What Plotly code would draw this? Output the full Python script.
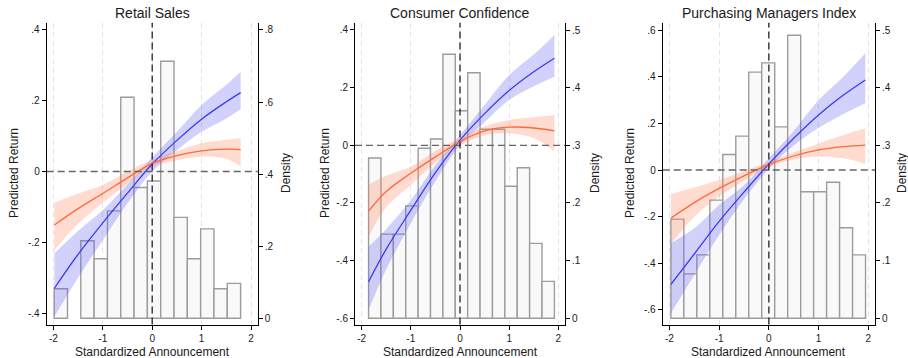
import numpy as np
import plotly.graph_objects as go

# ---------------- data ----------------
panel_titles = ["Retail Sales", "Consumer Confidence", "Purchasing Managers Index"]
x_title = "Standardized Announcement"
y_title_left = "Predicted Return"
y_title_right = "Density"

x_ticks = [-2, -1, 0, 1, 2]
x_ticktext = ["-2", "-1", "0", "1", "2"]

# Histogram (density) per panel: left edge of first bin, bin width, densities
rs_bin_start, rs_bin_width = -1.984, 0.2695
rs_density = [0.082, 0.0, 0.215, 0.165, 0.298, 0.613, 0.363, 0.381, 0.713, 0.280, 0.165, 0.248, 0.082, 0.097]

cc_bin_start, cc_bin_width = -1.859, 0.2519
cc_density = [0.278, 0.146, 0.146, 0.195, 0.295, 0.311, 0.458, 0.360, 0.426, 0.328, 0.328, 0.229, 0.261, 0.130, 0.064]

pmi_bin_start, pmi_bin_width = -1.97, 0.261
pmi_density = [0.172, 0.077, 0.110, 0.205, 0.284, 0.316, 0.427, 0.443, 0.332, 0.491, 0.2195, 0.2195, 0.236, 0.157, 0.110]

# Fitted curves (blue = fit A, orange = fit B) with confidence bands
rs_x = [-1.98, -1.5, -1.0, -0.5, 0.0, 0.5, 1.0, 1.5, 1.79]
rs_a = [-0.330, -0.234, -0.145, -0.061, 0.021, 0.088, 0.148, 0.197, 0.223]
rs_a_lo = [-0.410, -0.300, -0.194, -0.090, 0.000, 0.060, 0.112, 0.150, 0.176]
rs_a_hi = [-0.231, -0.168, -0.109, -0.037, 0.040, 0.112, 0.188, 0.245, 0.282]
rs_b = [-0.151, -0.105, -0.062, -0.018, 0.023, 0.045, 0.058, 0.063, 0.062]
rs_b_lo = [-0.222, -0.148, -0.088, -0.035, 0.013, 0.032, 0.042, 0.036, 0.014]
rs_b_hi = [-0.088, -0.062, -0.038, 0.000, 0.033, 0.058, 0.080, 0.090, 0.094]

cc_x = [-1.86, -1.5, -1.0, -0.5, 0.0, 0.5, 1.0, 1.5, 1.92]
cc_a = [-0.473, -0.360, -0.225, -0.095, 0.018, 0.110, 0.190, 0.255, 0.302]
cc_a_lo = [-0.571, -0.430, -0.270, -0.125, 0.000, 0.080, 0.157, 0.205, 0.238]
cc_a_hi = [-0.352, -0.290, -0.190, -0.068, 0.035, 0.140, 0.244, 0.315, 0.383]
cc_b = [-0.228, -0.160, -0.097, -0.040, 0.013, 0.050, 0.063, 0.060, 0.050]
cc_b_lo = [-0.317, -0.215, -0.138, -0.060, 0.000, 0.034, 0.042, 0.025, -0.022]
cc_b_hi = [-0.138, -0.105, -0.074, -0.020, 0.025, 0.066, 0.088, 0.097, 0.105]

pmi_x = [-1.97, -1.5, -1.0, -0.5, 0.0, 0.5, 1.0, 1.5, 1.94]
pmi_a = [-0.490, -0.360, -0.220, -0.095, 0.026, 0.136, 0.236, 0.321, 0.386]
pmi_a_lo = [-0.614, -0.450, -0.279, -0.125, 0.005, 0.105, 0.180, 0.240, 0.286]
pmi_a_hi = [-0.314, -0.250, -0.150, -0.065, 0.050, 0.167, 0.300, 0.400, 0.500]
pmi_b = [-0.207, -0.140, -0.079, -0.025, 0.024, 0.060, 0.086, 0.100, 0.107]
pmi_b_lo = [-0.317, -0.200, -0.114, -0.045, 0.012, 0.045, 0.057, 0.050, 0.026]
pmi_b_hi = [-0.103, -0.075, -0.043, -0.005, 0.035, 0.075, 0.114, 0.150, 0.179]

# Axis ticks
rs_ret_ticks = [-0.4, -0.2, 0, 0.2, 0.4]
rs_ret_text = ["-.4", "-.2", "0", ".2", ".4"]
rs_den_ticks = [0, 0.2, 0.4, 0.6, 0.8]
rs_den_text = ["0", ".2", ".4", ".6", ".8"]

cc_ret_ticks = [-0.6, -0.4, -0.2, 0, 0.2, 0.4]
cc_ret_text = ["-.6", "-.4", "-.2", "0", ".2", ".4"]
cc_den_ticks = [0, 0.1, 0.2, 0.3, 0.4, 0.5]
cc_den_text = ["0", ".1", ".2", ".3", ".4", ".5"]

pmi_ret_ticks = [-0.6, -0.4, -0.2, 0, 0.2, 0.4, 0.6]
pmi_ret_text = ["-.6", "-.4", "-.2", "0", ".2", ".4", ".6"]
pmi_den_ticks = [0, 0.1, 0.2, 0.3, 0.4, 0.5]
pmi_den_text = ["0", ".1", ".2", ".3", ".4", ".5"]

# ---------------- layout helpers ----------------
W, H = 908, 358
FONT = "Liberation Sans, Arial, Helvetica, sans-serif"
TXT = "#1a1a1a"

panels = [
    dict(title=panel_titles[0], bs=rs_bin_start, bw=rs_bin_width, dens=rs_density,
         x=rs_x, a=rs_a, alo=rs_a_lo, ahi=rs_a_hi, b=rs_b, blo=rs_b_lo, bhi=rs_b_hi,
         rt=rs_ret_ticks, rtt=rs_ret_text, dt=rs_den_ticks, dtt=rs_den_text,
         rr=[-0.4325, 0.4206], dr=[-0.0172, 0.820],
         px=[46.7, 257.7], ylab_x=14, dlab_x=286),
    dict(title=panel_titles[1], bs=cc_bin_start, bw=cc_bin_width, dens=cc_density,
         x=cc_x, a=cc_a, alo=cc_a_lo, ahi=cc_a_hi, b=cc_b, blo=cc_b_lo, bhi=cc_b_hi,
         rt=cc_ret_ticks, rtt=cc_ret_text, dt=cc_den_ticks, dtt=cc_den_text,
         rr=[-0.6215, 0.4253], dr=[-0.01075, 0.5127],
         px=[355, 565], ylab_x=325, dlab_x=595),
    dict(title=panel_titles[2], bs=pmi_bin_start, bw=pmi_bin_width, dens=pmi_density,
         x=pmi_x, a=pmi_a, alo=pmi_a_lo, ahi=pmi_a_hi, b=pmi_b, blo=pmi_b_lo, bhi=pmi_b_hi,
         rt=pmi_ret_ticks, rtt=pmi_ret_text, dt=pmi_den_ticks, dtt=pmi_den_text,
         rr=[-0.6622, 0.6313], dr=[-0.01075, 0.5127],
         px=[662.7, 875], ylab_x=630, dlab_x=902),
]

y_dom = [1 - 324.5 / H, 1 - 22.7 / H]

BLUE = "#3b3bf2"
BLUE_BAND = "rgba(90, 90, 245, 0.28)"
ORANGE = "#ff6a3d"
ORANGE_BAND = "rgba(255, 125, 85, 0.28)"

fig = go.Figure()
layout = dict(
    width=W, height=H, margin=dict(l=0, r=0, t=0, b=0),
    paper_bgcolor="white", plot_bgcolor="white", showlegend=False,
    font=dict(family=FONT, color=TXT, size=10),
)
shapes = []
annotations = []

for i, p in enumerate(panels):
    xa = "x" if i == 0 else f"x{i + 1}"
    yd = f"y{2 * i + 1}" if i > 0 else "y"
    yr = f"y{2 * i + 2}"
    xkey = "xaxis" if i == 0 else f"xaxis{i + 1}"
    ydkey = "yaxis" if i == 0 else f"yaxis{2 * i + 1}"
    yrkey = f"yaxis{2 * i + 2}"

    # histogram
    dens = np.array(p["dens"], dtype=float)
    centers = p["bs"] + p["bw"] * (np.arange(len(dens)) + 0.5)
    keep = dens > 0
    fig.add_trace(go.Bar(
        x=centers[keep], y=dens[keep], width=p["bw"], xaxis=xa, yaxis=yd,
        marker=dict(color="#f9f9f9", line=dict(color="#9c9c9c", width=1.4)),
        hoverinfo="skip"))

    # bands
    for lo, hi, col in [(p["alo"], p["ahi"], BLUE_BAND), (p["blo"], p["bhi"], ORANGE_BAND)]:
        fig.add_trace(go.Scatter(x=p["x"], y=lo, xaxis=xa, yaxis=yr, mode="lines",
                                 line=dict(width=0, shape="spline", color=col), hoverinfo="skip"))
        fig.add_trace(go.Scatter(x=p["x"], y=hi, xaxis=xa, yaxis=yr, mode="lines",
                                 line=dict(width=0, shape="spline", color=col),
                                 fill="tonexty", fillcolor=col, hoverinfo="skip"))
    # lines
    fig.add_trace(go.Scatter(x=p["x"], y=p["a"], xaxis=xa, yaxis=yr, mode="lines",
                             line=dict(width=1.3, shape="spline", color=BLUE)))
    fig.add_trace(go.Scatter(x=p["x"], y=p["b"], xaxis=xa, yaxis=yr, mode="lines",
                             line=dict(width=1.3, shape="spline", color=ORANGE)))

    dom = [p["px"][0] / W, p["px"][1] / W]
    layout[xkey] = dict(
        domain=dom, anchor=yd, range=[-2.135, 2.135], tickvals=x_ticks, ticktext=x_ticktext,
        ticks="outside", ticklen=4, tickcolor="black", showline=True, linecolor="black",
        linewidth=1, showgrid=True, gridcolor="#e4e4e4", griddash="5px,4px", gridwidth=1,
        zeroline=False, tickfont=dict(size=10, color=TXT))
    layout[ydkey] = dict(
        domain=y_dom, anchor=xa, side="right", range=p["dr"], tickvals=p["dt"], ticktext=p["dtt"],
        ticks="outside", ticklen=4, tickcolor="black", showline=True, linecolor="black",
        linewidth=1, showgrid=False, zeroline=False, tickfont=dict(size=10, color=TXT))
    layout[yrkey] = dict(
        overlaying=yd, anchor=xa, side="left", range=p["rr"], tickvals=p["rt"], ticktext=p["rtt"],
        ticks="outside", ticklen=4, tickcolor="black", showline=True, linecolor="black",
        linewidth=1, showgrid=False, zeroline=False, tickfont=dict(size=10, color=TXT))

    # reference lines
    shapes.append(dict(type="line", xref=f"{xa} domain", yref=yr, x0=0, x1=1, y0=0, y1=0,
                       line=dict(color="#666666", width=1.3, dash="7px,4px"), layer="above"))
    shapes.append(dict(type="line", xref=xa, yref=f"{yd} domain", x0=0, x1=0, y0=0, y1=1,
                       line=dict(color="#222222", width=1.3, dash="7px,4px"), layer="above"))

    # texts
    annotations.append(dict(text=p["title"], xref=xa, x=0, yref="paper", y=1 - 13 / H,
                            xanchor="center", yanchor="middle", showarrow=False,
                            font=dict(size=14, color=TXT, family=FONT)))
    annotations.append(dict(text=x_title, xref=xa, x=0, yref="paper", y=1 - 351.5 / H,
                            xanchor="center", yanchor="middle", showarrow=False,
                            font=dict(size=12, color=TXT, family=FONT)))
    annotations.append(dict(text=y_title_left, xref="paper", x=p["ylab_x"] / W, yref="paper",
                            y=1 - 173 / H, xanchor="center", yanchor="middle", textangle=-90,
                            showarrow=False, font=dict(size=12, color=TXT, family=FONT)))
    annotations.append(dict(text=y_title_right, xref="paper", x=p["dlab_x"] / W, yref="paper",
                            y=1 - 173 / H, xanchor="center", yanchor="middle", textangle=-90,
                            showarrow=False, font=dict(size=12, color=TXT, family=FONT)))

layout["shapes"] = shapes
layout["annotations"] = annotations
layout["barmode"] = "overlay"
fig.update_layout(**layout)
fig.write_html("out.html", config={"displayModeBar": False},
               post_script="document.body.style.margin='0';document.body.style.overflow='hidden';")
